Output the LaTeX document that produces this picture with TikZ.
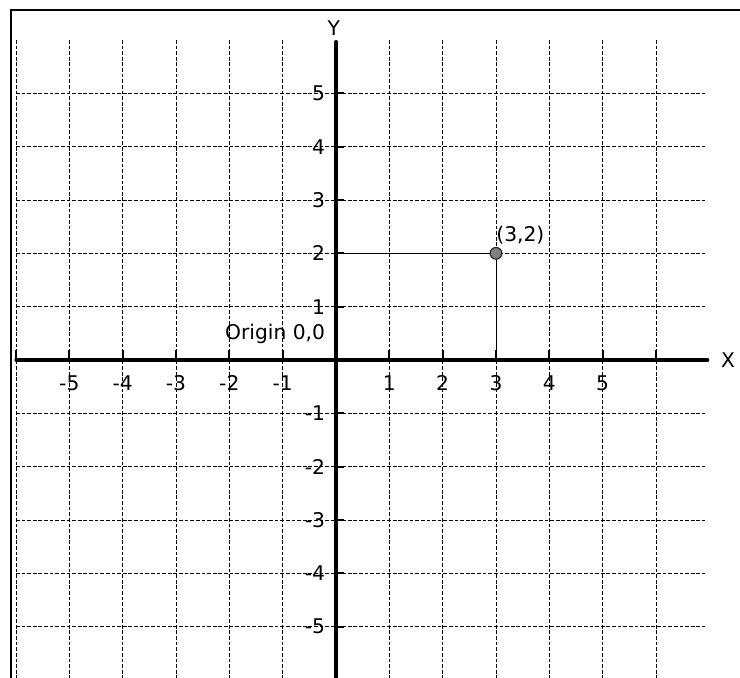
\documentclass[tikz,border=0pt]{standalone}
\usepackage{fontspec}
\setmainfont{DejaVu Sans}
\usetikzlibrary{positioning}

\begin{document}
\begin{tikzpicture}[
        % Grid: thin black dashes
        gridline/.style = {draw=black, line width=0.5pt, dash pattern=on 2pt off 1pt},
        % Axes: heavy black, round ends
        axis/.style = {draw=black, line width=1.7pt, line cap=round},
        % Short solid marks on the axes
        ticmark/.style = {draw=black, line width=1pt},
        % Thin solid guides to the plotted point
        guide/.style = {draw=black, line width=0.5pt},
        % Plotted point: grey dot with dark border
        dot/.style = {circle, draw=black!85, fill=black!50, line width=0.6pt,
                      minimum size=0.22cm, inner sep=0pt},
        % All texts
        lbl/.style = {font=\fontsize{10.8}{12}\selectfont, inner sep=0pt}
    ]

    % --- Page size and outer frame ---
    \clip (-6.3,-5.944) rectangle (7.575,6.75);
    \draw[line width=1.5pt] (-6.094,-7) -- (-6.094,6.5625) -- (8,6.5625);

    % --- Grid ---
    \foreach \x in {-6,...,6}
        \draw[gridline] (\x,6) -- (\x,-6.2);
    \foreach \y in {-5,...,5}
        \draw[gridline] (-6,\y) -- (6.92,\y);

    % --- Axes ---
    \coordinate (xstart) at (-6,0);
    \coordinate (xend) at (6.97,0);
    \coordinate (ystart) at (0,5.97);
    \coordinate (yend) at (0,-6.2);
    \draw[axis] (xstart) -- (xend);
    \draw[axis] (ystart) -- (yend);
    \node[lbl] (xlab) at (7.35,0) {X};
    \node[lbl] (ylab) at (-0.04,6.225) {Y};

    % --- Ticks ---
    \foreach \x in {-6,...,6}
        \draw[ticmark] (\x,0) -- (\x,0.19);
    \foreach \y in {-5,...,5}
        \draw[ticmark] (0,\y) -- (0.15,\y);

    % --- Tick labels ---
    \foreach \x in {-5,...,-1,1,2,...,5}
        \node[lbl] (xt\x) at (\x,-0.43) {\x};
    \foreach \y in {-5,...,-1,1,2,...,5}
        \node[lbl, anchor=east] (yt\y) at (-0.2,\y) {\y};

    \node[lbl, anchor=east] (origin) at (-0.2,0.49) {Origin 0,0};

    % --- The point (3,2) ---
    \coordinate (yfoot) at (0,2);
    \coordinate (xfoot) at (3,0);
    \draw[guide] (yfoot) -- (3,2);
    \draw[guide] (3,2) -- (xfoot);
    \node[dot] (pt) at (3,2) {};
    \node[lbl, anchor=west] (ptlab) at (3.0,2.34) {(3,2)};

\end{tikzpicture}
\end{document}
